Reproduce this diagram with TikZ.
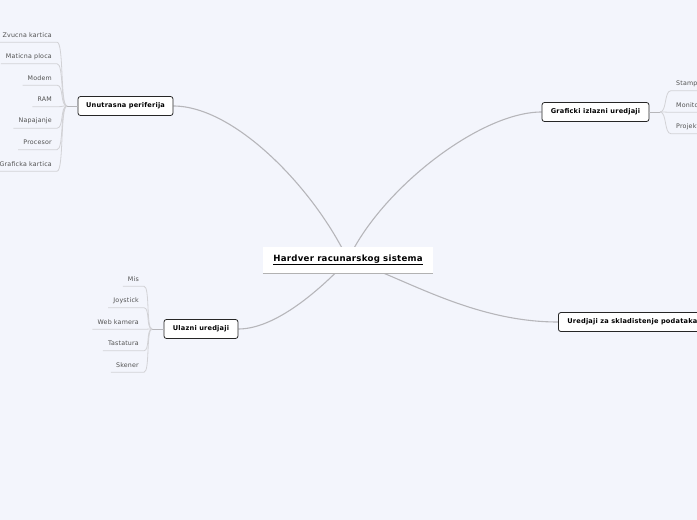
\documentclass[tikz,border=0pt]{standalone}
\usepackage{fontspec}
\setmainfont{DejaVu Sans}
\pgfdeclarelayer{back}
\pgfsetlayers{back,main}
\definecolor{pagebg}{RGB}{243,245,252}
\definecolor{linkgray}{RGB}{182,182,186}
\definecolor{leafline}{RGB}{210,210,214}
\definecolor{leaftext}{RGB}{80,80,80}

\begin{document}
\begin{tikzpicture}[x=1pt,y=-1pt,
  topic/.style={draw=black!85,fill=white,rounded corners=2.5pt,line width=0.8pt,minimum height=19pt,inner xsep=6pt,font=\fontsize{6.6}{7.5}\selectfont\bfseries\addfontfeatures{LetterSpace=3}},
  leaf/.style={text=leaftext,inner xsep=5pt,minimum height=14pt,font=\fontsize{6.3}{7}\selectfont\addfontfeatures{LetterSpace=3}},
  link/.style={draw=linkgray,line width=1.1pt},
  twig/.style={draw=leafline,line width=0.8pt}]
      \useasboundingbox (0,0) rectangle (697,520);
      \node[fill=white,minimum width=170pt,minimum height=26pt,font=\fontsize{8.6}{9}\selectfont\bfseries\addfontfeatures{LetterSpace=3}] (hw) at (348,260) {\underline{Hardver racunarskog sistema}};
      \draw[draw=black!30,line width=1pt] (hw.south west) -- (hw.south east);
      \node[topic,minimum width=95pt] (unut) at (125.5,106) {Unutrasna periferija};
      \node[topic,minimum width=107pt] (graf) at (595.5,112) {Graficki izlazni uredjaji};
      \node[topic,minimum width=74pt] (ulaz) at (201,329) {Ulazni uredjaji};
      \node[topic,anchor=west,inner xsep=9pt] (skl) at (558,322) {Uredjaji za skladistenje podataka};
      \coordinate (unJ) at (67,106);
      \coordinate (grJ) at (660,112);
      \coordinate (ulJ) at (152,329);
      \draw[link,line width=0.8pt] (unJ) -- (unut.west);
      \draw[link,line width=0.8pt] (grJ) -- (graf.east);
      \draw[link,line width=0.8pt] (ulJ) -- (ulaz.west);
      % unutrasna periferija
      \foreach \name/\yy [count=\i] in {Zvucna kartica/35,Maticna ploca/56.5,Modem/78,RAM/99.5,Napajanje/121,Procesor/142.5,Graficka kartica/164}{
        \node[leaf,anchor=east] (un\i) at (57,\yy) {\name};
        \draw[twig] (un\i.south west) -- (un\i.south east) .. controls +(7,0) and +(-7,0) .. (unJ);
      }
      % graficki izlazni uredjaji
      \foreach \name/\yy [count=\i] in {Stampac/83.5,Monitor/105,Projektor/126.5}{
        \node[leaf,anchor=west] (gr\i) at (671,\yy) {\name};
        \draw[twig] (grJ) .. controls +(7,0) and +(-7,0) .. (gr\i.south west) -- (gr\i.south east);
      }
      % ulazni uredjaji
      \foreach \name/\yy [count=\i] in {Mis/279,Joystick/300.5,Web kamera/322,Tastatura/343.5,Skener/365}{
        \node[leaf,anchor=east] (ul\i) at (144,\yy) {\name};
        \draw[twig] (ul\i.south west) -- (ul\i.south east) .. controls +(6,0) and +(-6,0) .. (ulJ);
      }
      %
      \begin{pgfonlayer}{back}
        \fill[pagebg] (0,0) rectangle (697,520);
        \draw[link] (unut.east) .. controls +(62,0) and +(-33,-70) .. (hw.center);
        \draw[link] (graf.west) .. controls +(-62,0) and +(32,-70) .. (hw.center);
        \draw[link] (ulaz.east) .. controls +(37,0) and +(-28,30) .. (hw.center);
        \draw[link] (skl.west) .. controls +(-88,0) and +(52,15) .. (hw.center);
      \end{pgfonlayer}
    \end{tikzpicture}
\end{document}
